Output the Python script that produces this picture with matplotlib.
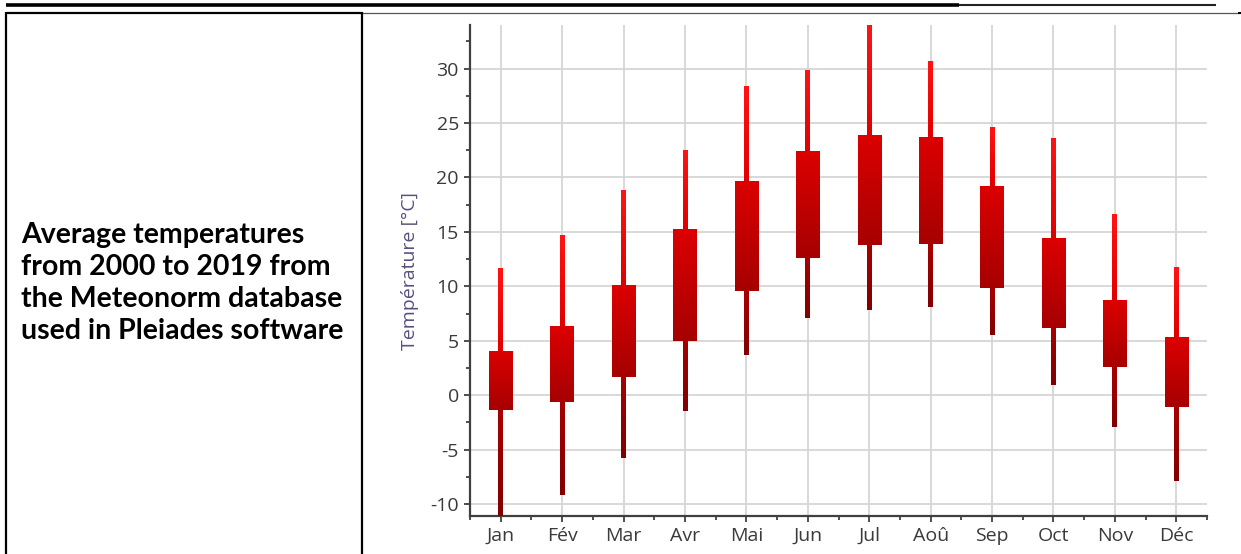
import matplotlib
matplotlib.use("Agg")
import matplotlib.pyplot as plt
import numpy as np
from matplotlib.colors import LinearSegmentedColormap
from matplotlib.ticker import MultipleLocator

plt.rcParams['axes.unicode_minus'] = False

# ---- data ----
months = ["Jan", "Fév", "Mar", "Avr", "Mai", "Jun", "Jul", "Aoû", "Sep", "Oct", "Nov", "Déc"]
t_min = [-11.1, -9.2, -5.8, -1.45, 3.7, 7.1, 7.8, 8.1, 5.5, 0.95, -2.9, -7.85]
t_low = [-1.4, -0.6, 1.7, 5.0, 9.6, 12.6, 13.8, 13.9, 9.8, 6.2, 2.6, -1.1]
t_high = [4.1, 6.35, 10.1, 15.3, 19.65, 22.4, 23.9, 23.7, 19.2, 14.45, 8.75, 5.3]
t_max = [11.7, 14.7, 18.8, 22.5, 28.4, 29.9, 34.0, 30.7, 24.6, 23.6, 16.6, 11.8]
y_ticks = [-10, -5, 0, 5, 10, 15, 20, 25, 30]
caption = "Average temperatures\nfrom 2000 to 2019 from\nthe Meteonorm database\nused in Pleiades software"

W, H = 1241, 554
fig = plt.figure(figsize=(W / 100, H / 100), dpi=100)
fig.patch.set_facecolor("white")

# ---- table frame overlay (pixel coordinates) ----
bg = fig.add_axes([0, 0, 1, 1])
bg.set_xlim(0, W)
bg.set_ylim(H, 0)
bg.axis("off")
bg.plot([6, 959], [4.5, 4.5], color="black", lw=2.6, solid_capstyle="butt")
bg.plot([959, 1216], [5, 5], color="#222222", lw=1.5, solid_capstyle="butt")
bg.plot([6, 362], [12.5, 12.5], color="black", lw=1.6, solid_capstyle="butt")
bg.plot([362, 1239], [12.5, 12.5], color="#555555", lw=0.9, solid_capstyle="butt")
bg.plot([1238, 1241], [13, 13], color="black", lw=1.5, solid_capstyle="butt")
bg.plot([6, 6], [12, H], color="black", lw=1.6, solid_capstyle="butt")
bg.plot([362, 362], [12, H], color="black", lw=1.6, solid_capstyle="butt")

fig.text(21 / W, 1 - 283 / H, caption, ha="left", va="center", fontsize=20.5,
         fontweight="bold", family="Lato", color="black", linespacing=1.3)

# ---- chart ----
ax = fig.add_axes([470 / W, 1 - 516 / H, (1207 - 470) / W, (516 - 25) / H])
x = np.arange(len(months))

grad = np.linspace(0, 1, 256).reshape(-1, 1)
cm_up = LinearSegmentedColormap.from_list("up", ["#e00000", "#ff1414"])
cm_box = LinearSegmentedColormap.from_list("box", ["#a60000", "#dc0000"])
cm_lo = LinearSegmentedColormap.from_list("lo", ["#800000", "#a80000"])

def grad_bar(xc, bottom, top, width, cmap):
    bars = ax.bar([xc], [top - bottom], bottom=[bottom], width=width,
                  facecolor="none", edgecolor="none", zorder=3)
    patch = bars.patches[0]
    im = ax.imshow(grad, extent=(xc - width / 2, xc + width / 2, bottom, top),
                   origin="lower", aspect="auto", cmap=cmap, zorder=3,
                   interpolation="bilinear")
    im.set_clip_path(patch)

for i in x:
    grad_bar(i, t_high[i], t_max[i], 0.08, cm_up)
    grad_bar(i, t_min[i], t_low[i], 0.08, cm_lo)
    grad_bar(i, t_low[i], t_high[i], 0.38, cm_box)

ax.set_xlim(-0.5, 11.5)
ax.set_ylim(-11.1, 34.0)
ax.set_xticks(x)
ax.set_xticklabels(months)
ax.set_yticks(y_ticks)
ax.xaxis.set_minor_locator(MultipleLocator(0.5))
ax.yaxis.set_minor_locator(MultipleLocator(2.5))
ax.grid(True, which="major", color="#d6d6d6", lw=1.3, zorder=0)
ax.set_axisbelow(True)

for s in ["top", "right"]:
    ax.spines[s].set_visible(False)
for s in ["left", "bottom"]:
    ax.spines[s].set_color("#404040")
    ax.spines[s].set_linewidth(1.6)

ax.tick_params(which="both", direction="out", color="#404040", width=1.3)
ax.tick_params(which="major", length=4, labelsize=14, labelcolor="#3a3a3a", pad=4)
ax.tick_params(which="minor", length=3)
for lab in ax.get_xticklabels() + ax.get_yticklabels():
    lab.set_family("Open Sans")

ax.set_ylabel("Température [°C]", fontsize=14, color="#5a5080", family="Open Sans", labelpad=8)

fig.savefig("out.png", dpi=100, facecolor="white")
